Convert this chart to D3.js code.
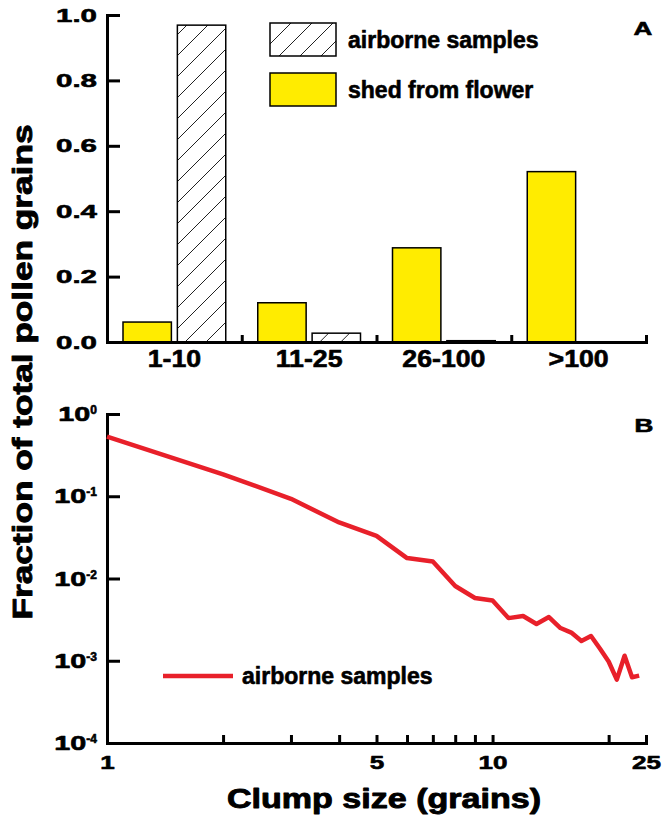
<!DOCTYPE html>
<html>
<head>
<meta charset="utf-8">
<script src="https://cdn.jsdelivr.net/npm/d3@7"></script>
<style>
  body { margin: 0; background: #fff; }
  svg { display: block; font-family: "Liberation Sans", Arial, sans-serif; font-weight: bold; }
  svg text { stroke: #000; stroke-width: 0.6px; stroke-linejoin: round; }
  svg text.title { stroke-width: 0.9px; }
</style>
</head>
<body>
<div id="canva"></div>
<script>
// panel A: fraction of pollen grains by clump size class
const categories = ["1-10", "11-25", "26-100", ">100"];
const series = ["shed from flower", "airborne samples"];
const shedValues = [0.061, 0.12, 0.288, 0.521];
const airborneValues = [0.969, 0.027, 0.004, 0];
const yTicksA = [0, 0.2, 0.4, 0.6, 0.8, 1.0];

// panel B: airborne clump size distribution
const clumpSizes = [1, 2, 3, 4, 5, 6, 7, 8, 9, 10, 11, 12, 13, 14, 15, 16, 17, 18, 19, 20, 21, 22, 23, 24];
const airborneFraction = [0.53, 0.185, 0.093, 0.048, 0.033, 0.0177, 0.0161, 0.0081, 0.0058, 0.0054,
  0.0033, 0.0035, 0.0028, 0.0034, 0.0025, 0.0022, 0.00174, 0.002, 0.0014, 0.00098,
  0.00059, 0.00115, 0.00063, 0.00066];
const xTicksB = [1, 2, 3, 4, 5, 6, 7, 8, 9, 10, 20, 25];
const xLabelsB = [1, 5, 10, 25];
const yTicksB = [1, 0.1, 0.01, 0.001, 0.0001];

const yellow = "#ffec00";
const red = "#e8202a";
const width = 662, height = 817;

// the original uses a wide heavy face, so widen Liberation Sans Bold to match
const widen = (sel, k) => sel.each(function () {
  const w = this.getComputedTextLength();
  if (w > 0) d3.select(this).attr("textLength", (w * k).toFixed(1)).attr("lengthAdjust", "spacingAndGlyphs");
});

const styleAxis = (g, size) => {
  g.select(".domain").attr("stroke", "#000").attr("stroke-width", 3).attr("stroke-linecap", "square");
  g.selectAll(".tick line").attr("stroke", "#000").attr("stroke-width", 3);
  g.selectAll(".tick text").attr("fill", "#000").attr("font-size", size)
    .attr("font-family", null).attr("font-weight", "bold");
  g.attr("font-family", null).attr("font-size", null);
};

const svg = d3.select("#canva").append("svg").attr("width", width).attr("height", height);

const pat = svg.append("defs").append("pattern")
  .attr("id", "hatch").attr("patternUnits", "userSpaceOnUse")
  .attr("width", 21).attr("height", 21);
pat.append("rect").attr("width", 21).attr("height", 21).attr("fill", "#fff");
pat.append("path").attr("d", "M-2,2 L2,-2 M0,21 L21,0 M19,23 L23,19")
  .attr("stroke", "#222").attr("stroke-width", 1);

const fillOf = (key) => key === series[0] ? yellow : "url(#hatch)";

// ---------- panel A ----------
const x0 = d3.scaleBand().domain(categories).range([107, 646]);
const x1 = d3.scaleBand().domain(series).range([16, x0.bandwidth() - 16]).paddingInner(0.11);
const yA = d3.scaleLinear().domain([0, 1]).range([342, 15]);

const rows = categories.map((c, i) => ({
  cat: c,
  values: [{ key: series[0], v: shedValues[i] }, { key: series[1], v: airborneValues[i] }]
}));

const groups = svg.append("g").selectAll("g").data(rows).enter().append("g")
  .attr("transform", (d) => `translate(${x0(d.cat)},0)`);

groups.selectAll("rect").data((d) => d.values).enter().append("rect")
  .attr("x", (d) => x1(d.key))
  .attr("y", (d) => yA(d.v))
  .attr("width", x1.bandwidth())
  .attr("height", (d) => yA(0) - yA(d.v))
  .attr("fill", (d) => fillOf(d.key))
  .attr("stroke", "#000")
  .attr("stroke-width", 1.5);

const bounds = d3.scaleLinear().domain([0, categories.length]).range([107, 646]);
svg.append("g").attr("transform", "translate(0,342)")
  .call(d3.axisBottom(bounds).tickValues([1, 2, 3, 4]).tickSize(-7).tickFormat(""))
  .call((g) => g.select(".domain").remove())
  .call((g) => g.selectAll(".tick line").attr("stroke", "#000").attr("stroke-width", 3));

const xAxisA = svg.append("g").attr("transform", "translate(0,342)")
  .call(d3.axisBottom(x0).tickSize(0).tickSizeOuter(0).tickPadding(9));
styleAxis(xAxisA, 23);
widen(xAxisA.selectAll(".tick text"), 1.16);

const yAxisA = svg.append("g").attr("transform", "translate(107,0)")
  .call(d3.axisLeft(yA).tickValues(yTicksA).tickFormat(d3.format(".1f"))
    .tickSize(-13).tickSizeOuter(0).tickPadding(10));
styleAxis(yAxisA, 19);
widen(yAxisA.selectAll(".tick text"), 1.55);

// legend A
const legA = svg.append("g").selectAll("g").data([series[1], series[0]]).enter().append("g")
  .attr("transform", (d, i) => `translate(270,${23 + i * 50})`);
legA.append("rect").attr("width", 66).attr("height", 33)
  .attr("fill", (d) => fillOf(d)).attr("stroke", "#000").attr("stroke-width", 1.5);
legA.append("text").attr("x", 78).attr("y", 16.5).attr("dy", "0.35em")
  .attr("font-size", 23).text((d) => d);

widen(svg.append("text").attr("x", 643).attr("y", 35).attr("text-anchor", "middle")
  .attr("font-size", 18).text("A"), 1.45);

// ---------- panel B ----------
const xB = d3.scaleLog().domain([1, 25]).range([107, 646]);
const yB = d3.scaleLog().domain([1e-4, 1]).range([743, 414]);

const xAxisB = svg.append("g").attr("transform", "translate(0,743)")
  .call(d3.axisBottom(xB).tickValues(xTicksB).tickSize(-8).tickSizeOuter(0).tickPadding(13)
    .tickFormat((d) => xLabelsB.includes(d) ? d : ""));
styleAxis(xAxisB, 19);
widen(xAxisB.selectAll(".tick text"), 1.37);

const yAxisB = svg.append("g").attr("transform", "translate(107,0)")
  .call(d3.axisLeft(yB).tickValues(yTicksB).tickSize(-13).tickSizeOuter(0).tickPadding(10)
    .tickFormat(""));
styleAxis(yAxisB, 21);
yAxisB.selectAll(".tick text").each(function (d) {
  const t = d3.select(this);
  const base = t.append("tspan").text("10");
  t.append("tspan").attr("dy", "-0.6em").attr("font-size", 12)
    .text(String(Math.round(Math.log10(d))));
  widen(base, 1.37);
});

svg.append("path")
  .datum(clumpSizes.map((s, i) => ({ size: s, frac: airborneFraction[i] })))
  .attr("fill", "none")
  .attr("stroke", red)
  .attr("stroke-width", 4.5)
  .attr("stroke-linejoin", "round")
  .attr("d", d3.line().x((d) => xB(d.size)).y((d) => yB(d.frac)));

// legend B
svg.append("line").attr("x1", 163).attr("x2", 233).attr("y1", 676).attr("y2", 676)
  .attr("stroke", red).attr("stroke-width", 4.5);
svg.append("text").attr("x", 242).attr("y", 676).attr("dy", "0.35em")
  .attr("font-size", 23).text("airborne samples");

widen(svg.append("text").attr("x", 644).attr("y", 432).attr("text-anchor", "middle")
  .attr("font-size", 18).text("B"), 1.45);

// axis titles
svg.append("text").attr("class", "title").attr("x", 384).attr("y", 808).attr("text-anchor", "middle")
  .attr("font-size", 27).attr("textLength", 314).attr("lengthAdjust", "spacingAndGlyphs")
  .text("Clump size (grains)");

svg.append("text").attr("class", "title").attr("transform", "translate(32,372) rotate(-90)")
  .attr("text-anchor", "middle")
  .attr("font-size", 28).attr("textLength", 495).attr("lengthAdjust", "spacingAndGlyphs")
  .text("Fraction of total pollen grains");
</script>
</body>
</html>
